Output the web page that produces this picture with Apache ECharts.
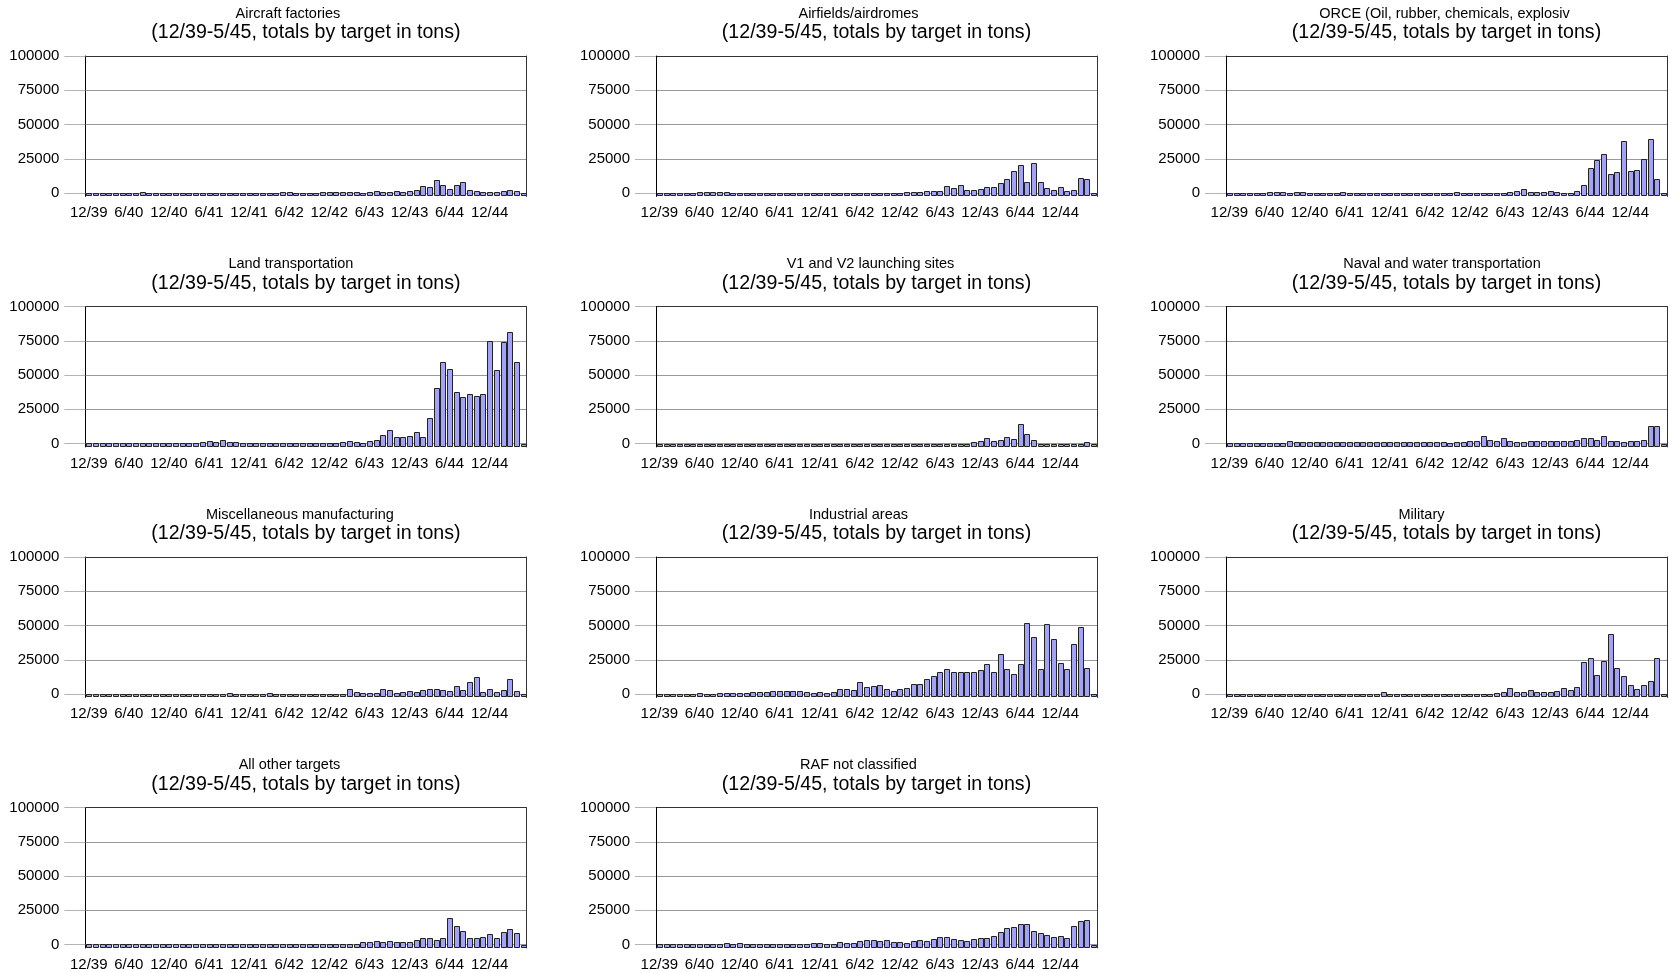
<!DOCTYPE html>
<html lang="en">
<head>
<meta charset="utf-8">
<script src="https://cdn.jsdelivr.net/npm/echarts@6/dist/echarts.min.js"></script>
<style>
    html, body { margin: 0; padding: 0; background: #fff; }
    #main { width: 1669px; height: 972px; }
</style>
</head>
<body>
<div id="main"></div>
<script>
    // months 12/39 .. 5/45, one bar each
    var months = [
        '12/39', '1/40', '2/40', '3/40', '4/40', '5/40', '6/40', '7/40', '8/40', '9/40', '10/40', '11/40',
        '12/40', '1/41', '2/41', '3/41', '4/41', '5/41', '6/41', '7/41', '8/41', '9/41', '10/41', '11/41',
        '12/41', '1/42', '2/42', '3/42', '4/42', '5/42', '6/42', '7/42', '8/42', '9/42', '10/42', '11/42',
        '12/42', '1/43', '2/43', '3/43', '4/43', '5/43', '6/43', '7/43', '8/43', '9/43', '10/43', '11/43',
        '12/43', '1/44', '2/44', '3/44', '4/44', '5/44', '6/44', '7/44', '8/44', '9/44', '10/44', '11/44',
        '12/44', '1/45', '2/45', '3/45', '4/45', '5/45'
    ];
    var yTicks = [0, 25000, 50000, 75000, 100000];
    var subTitle = '(12/39-5/45, totals by target in tons)';
    var titles = [
        'Aircraft factories', 'Airfields/airdromes', 'ORCE (Oil, rubber, chemicals, explosiv',
        'Land transportation', 'V1 and V2 launching sites', 'Naval and water transportation',
        'Miscellaneous manufacturing', 'Industrial areas', 'Military',
        'All other targets', 'RAF not classified'
    ];

    var aircraftFactories = [
        200, 200, 200, 200, 200, 200, 200, 200, 900, 300, 300, 300,
        300, 300, 300, 300, 300, 300, 300, 200, 300, 300, 300, 300,
        300, 300, 300, 300, 300, 800, 800, 300, 300, 300, 300, 700,
        400, 400, 400, 400, 700, 300, 600, 1800, 700, 900, 1200, 800,
        1200, 2500, 5000, 4700, 9700, 5600, 3200, 6100, 7800, 1900, 1600, 1000,
        600, 700, 1500, 2300, 1500, 300
    ];
    var airfields = [
        300, 300, 300, 300, 300, 300, 900, 900, 800, 400, 900, 300,
        300, 300, 300, 300, 300, 300, 300, 300, 300, 300, 300, 300,
        300, 300, 300, 300, 300, 300, 300, 300, 300, 300, 300, 300,
        300, 800, 400, 1000, 1200, 1500, 1600, 5000, 3700, 5800, 2500, 2000,
        3200, 4500, 4600, 7500, 10200, 16200, 20500, 8000, 22200, 8000, 3700, 2500,
        4600, 1500, 2500, 11200, 10400, 0
    ];
    var orce = [
        200, 200, 200, 200, 200, 200, 700, 700, 800, 300, 800, 700,
        300, 300, 300, 300, 300, 800, 300, 300, 300, 300, 300, 300,
        300, 300, 300, 300, 300, 300, 300, 300, 300, 300, 700, 300,
        300, 300, 300, 300, 300, 300, 800, 1800, 2800, 500, 800, 1000,
        1200, 1000, 0, 0, 1500, 5500, 18200, 24200, 28700, 14200, 15000, 38000,
        15700, 16700, 25000, 39500, 10500, 0
    ];
    var landTransport = [
        300, 300, 300, 300, 300, 700, 700, 700, 300, 700, 300, 700,
        300, 300, 300, 300, 300, 1000, 2000, 800, 2200, 800, 800, 300,
        300, 300, 300, 300, 300, 300, 300, 300, 300, 300, 500, 300,
        600, 600, 800, 1500, 800, 600, 1500, 2500, 6100, 9600, 4400, 4400,
        5200, 8400, 4400, 18400, 40500, 59400, 54200, 37300, 33700, 35900, 34900, 35900,
        74500, 53300, 73800, 81600, 59400, 0
    ];
    var v1v2Sites = [
        0, 0, 0, 0, 0, 0, 0, 0, 0, 0, 0, 0,
        0, 0, 0, 0, 0, 0, 0, 0, 0, 0, 0, 0,
        0, 0, 0, 0, 0, 0, 0, 0, 0, 0, 0, 0,
        0, 0, 0, 0, 0, 0, 0, 0, 0, 0, 0, 1000,
        1700, 3700, 1700, 2200, 4400, 3200, 14000, 6600, 2200, 0, 0, 0,
        0, 0, 0, 0, 1000, 0
    ];
    var navalTransport = [
        500, 500, 500, 500, 500, 500, 500, 500, 500, 2000, 1200, 1000,
        800, 800, 1000, 1200, 1000, 1000, 1200, 1000, 1200, 1400, 1000, 1200,
        800, 1400, 1200, 1000, 1200, 1000, 800, 1000, 1200, 700, 800, 1000,
        1500, 2000, 5800, 2400, 2000, 3900, 2000, 1000, 1000, 1500, 2000, 2000,
        2000, 2000, 2000, 2000, 2400, 3900, 3900, 2400, 5800, 2000, 1500, 1000,
        2000, 2000, 2400, 12600, 12600, 0
    ];
    var miscManufacturing = [
        300, 300, 300, 300, 300, 300, 300, 300, 300, 300, 300, 300,
        300, 300, 300, 300, 300, 300, 300, 300, 300, 700, 300, 300,
        300, 300, 300, 800, 300, 300, 300, 300, 300, 300, 300, 300,
        300, 300, 300, 3700, 1200, 500, 1000, 500, 3700, 2700, 1000, 1200,
        2000, 1800, 2700, 3400, 3400, 3200, 2400, 5600, 3200, 8800, 12500, 1200,
        4000, 1500, 3000, 11000, 2400, 0
    ];
    var industrialAreas = [
        300, 300, 300, 300, 300, 300, 500, 300, 300, 500, 600, 800,
        600, 1000, 1200, 1200, 1600, 2000, 2000, 2000, 2400, 2000, 1500, 1000,
        1500, 1000, 1200, 3400, 3900, 2900, 8500, 5100, 5900, 6600, 3700, 2400,
        3700, 4100, 7600, 7600, 10700, 13400, 15900, 18000, 16300, 16300, 16300, 16300,
        17800, 22000, 16300, 29300, 18300, 14600, 22000, 51700, 41500, 18300, 51200, 40300,
        22700, 18000, 36600, 48800, 18800, 0
    ];
    var military = [
        300, 300, 300, 300, 300, 300, 300, 300, 300, 300, 300, 300,
        300, 300, 300, 300, 300, 300, 300, 300, 300, 300, 300, 1200,
        300, 300, 300, 300, 300, 300, 300, 300, 300, 300, 300, 300,
        300, 300, 300, 300, 700, 1700, 4100, 1700, 1700, 2700, 1700, 1700,
        1700, 2200, 4400, 3200, 5100, 23600, 26000, 13900, 24100, 43500, 19000, 12900,
        6800, 3600, 6800, 9700, 26200, 0
    ];
    var allOther = [
        300, 300, 300, 300, 300, 300, 300, 300, 300, 300, 300, 300,
        300, 300, 300, 300, 300, 300, 300, 300, 300, 300, 300, 300,
        300, 300, 300, 300, 300, 300, 300, 300, 300, 300, 300, 300,
        300, 500, 300, 700, 600, 1500, 1800, 2500, 2000, 2500, 2000, 1500,
        1800, 3200, 5000, 4500, 3200, 5000, 19500, 13700, 9500, 5000, 5000, 5700,
        7700, 4500, 9000, 11500, 8700, 0
    ];
    var rafNotClassified = [
        300, 300, 300, 300, 300, 300, 600, 600, 300, 500, 800, 700,
        800, 700, 700, 700, 700, 700, 700, 700, 700, 700, 700, 1200,
        800, 700, 700, 1500, 1000, 1200, 2700, 3200, 3000, 2700, 3000, 2000,
        1800, 1200, 2700, 3200, 2500, 4000, 5200, 5200, 3700, 3200, 2500, 4000,
        5000, 5000, 6000, 9000, 12000, 12700, 15000, 15000, 9500, 8700, 7000, 5700,
        6000, 5000, 13700, 17500, 18000, 0
    ];

    var panels = [
        aircraftFactories, airfields, orce,
        landTransport, v1v2Sites, navalTransport,
        miscManufacturing, industrialAreas, military,
        allOther, rafNotClassified
    ];

    // layout of the 3 x 4 small multiples
    var colLeft = [85.4, 656, 1226];
    var plotWidth = 441;
    var rowTop = 56, rowStep = 250.5;
    var plotHeight = 137;          // pixels for 0..100000
    var yMin = -2500, yMax = 100000;
    var titleShift = [-18, -18, -2, -15, -6, -4.5, -6, -18, -25, -16.5, -18];
    var fontName = '"Liberation Sans", Arial, sans-serif';
    var barFill = '#a2a2f6', barEdge = '#222';

    var grid = [], xAxis = [], yAxis = [], series = [], graphic = [];

    panels.forEach(function (vals, k) {
        var col = k % 3, row = Math.floor(k / 3);
        var left = colLeft[col];
        var top = rowTop + row * rowStep;
        var cx = left + plotWidth / 2;

        grid.push({
            left: left, top: top, width: plotWidth,
            height: plotHeight * (yMax - yMin) / yMax
        });
        xAxis.push({
            type: 'category', gridIndex: k, data: months, boundaryGap: true,
            axisLine: { show: false, onZero: false },
            axisTick: { show: false },
            splitLine: { show: false },
            axisLabel: { interval: 5, fontSize: 15, color: '#000', margin: 9, fontFamily: fontName }
        });
        yAxis.push({
            type: 'value', gridIndex: k, min: yMin, max: yMax,
            axisLine: { show: true, lineStyle: { color: '#000', width: 1 } },
            axisTick: { show: true, customValues: yTicks, length: 21, lineStyle: { color: '#b4b4b4' } },
            axisLabel: {
                customValues: yTicks, fontSize: 15, color: '#000', margin: 26, fontFamily: fontName,
                formatter: function (v) { return String(v); }
            },
            splitLine: { show: true, lineStyle: { color: ['#999', '#999', '#999', '#999', '#333'], width: 1 } }
        });
        yAxis.push({
            type: 'value', gridIndex: k, position: 'right', min: yMin, max: yMax,
            axisLine: { show: true, lineStyle: { color: '#333', width: 1 } },
            axisTick: { show: false }, axisLabel: { show: false }, splitLine: { show: false }
        });

        series.push({
            type: 'custom', xAxisIndex: k, yAxisIndex: 2 * k,
            data: vals.map(function (v, i) { return [i, v]; }),
            encode: { x: 0, y: 1 },
            silent: true,
            renderItem: function (params, api) {
                var topPt = api.coord([api.value(0), api.value(1)]);
                var basePt = api.coord([api.value(0), yMin]);
                var w = Math.round(api.size([1, 0])[0] * 0.76);
                var x0 = Math.round(topPt[0] - w / 2) + 0.5;
                var y0 = Math.round(topPt[1]) + 0.5;
                var y1 = Math.round(basePt[1]) - 0.5;
                return {
                    type: 'rect',
                    shape: { x: x0, y: y0, width: w, height: y1 - y0 },
                    style: { fill: barFill, stroke: barEdge, lineWidth: 1 }
                };
            }
        });

        graphic.push({
            type: 'text', x: cx + titleShift[k], y: top - 42.5, silent: true,
            style: { text: titles[k], fill: '#000', font: '14.5px ' + fontName,
                     textAlign: 'center', textVerticalAlign: 'middle' }
        });
        graphic.push({
            type: 'text', x: cx, y: top - 23, silent: true,
            style: { text: subTitle, fill: '#000', font: '19.6px ' + fontName,
                     textAlign: 'center', textVerticalAlign: 'middle' }
        });
    });

    var myChart = echarts.init(document.getElementById('main'));
    myChart.setOption({
        animation: false,
        backgroundColor: '#fff',
        grid: grid,
        xAxis: xAxis,
        yAxis: yAxis,
        series: series,
        graphic: graphic
    });
</script>
</body>
</html>
